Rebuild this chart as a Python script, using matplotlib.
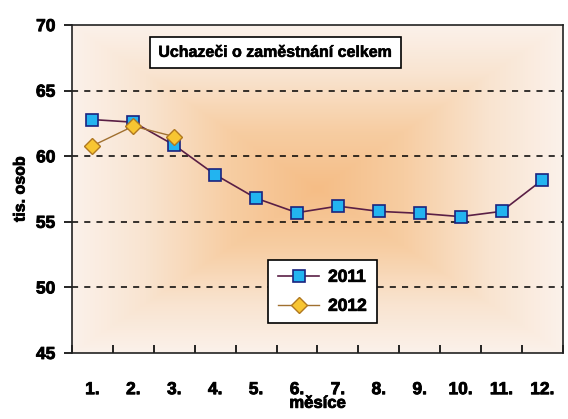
import numpy as np
import matplotlib
matplotlib.use("Agg")
import matplotlib.pyplot as plt
import matplotlib.patheffects as pe
from matplotlib.colors import LinearSegmentedColormap

# data
mesice = ["1.", "2.", "3.", "4.", "5.", "6.", "7.", "8.", "9.", "10.", "11.", "12."]
rok2011 = [62.8, 62.6, 60.85, 58.6, 56.8, 55.7, 56.2, 55.8, 55.65, 55.4, 55.8, 58.2]
rok2012 = [60.8, 62.3, 61.5]

plt.rcParams['font.family'] = ['Liberation Sans', 'DejaVu Sans']
plt.rcParams['font.weight'] = 'bold'
heavy = [pe.withStroke(linewidth=0.6, foreground="black")]

fig = plt.figure(figsize=(5.68, 4.19), dpi=100)
ax = fig.add_axes([0.1268, 0.1575, 0.8642, 0.7825])

# rectangular "from center" gradient background
n = 300
gx, gy = np.meshgrid(np.linspace(-1, 1, n), np.linspace(-1, 1, n))
u = np.maximum(np.abs(gx) * 1.0, np.abs(gy) * 1.0)
cmap = LinearSegmentedColormap.from_list(
    "bg", [(0.0, "#f5bd86"), (0.35, "#f7cda2"), (0.7, "#f9e4d0"), (1.0, "#fbf1ea")])
ax.imshow(u, cmap=cmap, extent=[0.5, 12.5, 45, 70], aspect="auto",
          zorder=0, interpolation="bilinear")

x = np.arange(1, 13)
ax.plot(x, rok2011, color="#5a1f45", lw=1.2, marker="s", markersize=8.5,
        markerfacecolor="#22b4f0", markeredgecolor="#1a237e", markeredgewidth=1.2,
        label="2011", zorder=3)
ax.plot(x[:len(rok2012)], rok2012, color="#a07030", lw=1.0, marker="D", markersize=8,
        markerfacecolor="#f7c532", markeredgecolor="#b07820", markeredgewidth=1.0,
        label="2012", zorder=4)

ax.set_xlim(0.5, 12.5)
ax.set_ylim(45, 70)
for yv in [50, 55, 60, 65]:
    ax.axhline(yv, color="black", lw=1.1, ls=(0, (4, 4)), zorder=1)

ax.set_yticks([45, 50, 55, 60, 65, 70])
ax.set_xticks(np.arange(0.5, 13, 1))
ax.set_xticklabels([])
ax.set_xticks(x, minor=True)
ax.set_xticklabels(mesice, minor=True)
ax.tick_params(axis="x", which="major", direction="in", length=6, width=1.2)
ax.tick_params(axis="x", which="minor", length=0, pad=21, labelsize=12.5)
ax.tick_params(axis="y", direction="out", length=6, width=1.2, labelsize=12.5, pad=6)
for lbl in ax.get_xticklabels(minor=True) + ax.get_yticklabels():
    lbl.set_path_effects(heavy)
for s in ax.spines.values():
    s.set_linewidth(1.2)
    s.set_color("#222222")

xl = ax.set_xlabel("měsíce", fontsize=12, fontweight="bold", labelpad=-1)
yl = ax.set_ylabel("tis. osob", fontsize=11.5, fontweight="bold", labelpad=6)
xl.set_path_effects(heavy)
yl.set_path_effects(heavy)

t = ax.text(0.415, 0.917, "Uchazeči o zaměstnání celkem", transform=ax.transAxes,
            ha="center", va="center", fontsize=11.5, fontweight="bold",
            bbox=dict(boxstyle="square,pad=0.5", fc="white", ec="black", lw=1.2), zorder=5)
t.set_path_effects([pe.withStroke(linewidth=0.4, foreground="black")])

leg = ax.legend(loc="upper left", bbox_to_anchor=(0.382, 0.31), fontsize=12.5,
                frameon=True, fancybox=False, edgecolor="black", framealpha=1,
                borderpad=0.55, labelspacing=0.8, handlelength=2.4, handletextpad=0.5)
leg.get_frame().set_linewidth(1.2)
leg.set_zorder(5)
for txt in leg.get_texts():
    txt.set_path_effects(heavy)

fig.savefig("out.png", dpi=100)
